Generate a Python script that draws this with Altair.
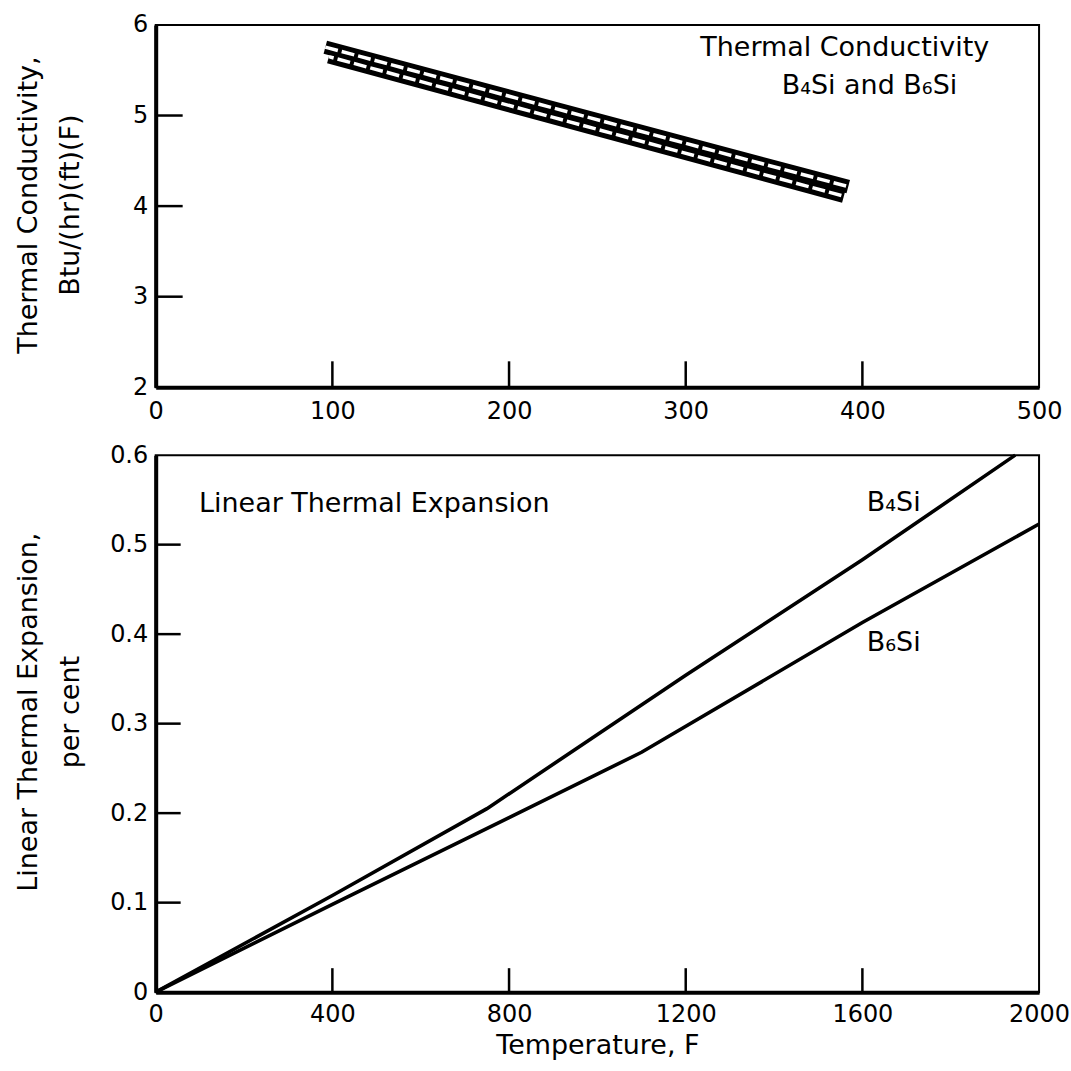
import altair as alt
import pandas as pd

# ---------------- data ----------------
# Top panel: thermal conductivity band (three boundary lines)
band_upper_x = [95, 393]
band_upper_y = [5.80, 4.27]
band_middle_x = [97, 391]
band_middle_y = [5.71, 4.16]
band_lower_x = [99, 388]
band_lower_y = [5.59, 4.06]

cond_x_labels = [0, 100, 200, 300, 400, 500]
cond_y_labels = [2, 3, 4, 5, 6]
cond_x_ticks = [100, 200, 300, 400]
cond_y_ticks = [3, 4, 5]

# Bottom panel: linear thermal expansion
temp_b4si = [0, 400, 750, 1200, 1600, 1946]
exp_b4si = [0, 0.108, 0.205, 0.354, 0.483, 0.6]
temp_b6si = [0, 400, 800, 1100, 1600, 2000]
exp_b6si = [0, 0.098, 0.195, 0.268, 0.413, 0.523]

exp_x_labels = [0, 400, 800, 1200, 1600, 2000]
exp_y_labels = [0, 0.1, 0.2, 0.3, 0.4, 0.5, 0.6]
exp_x_ticks = [400, 800, 1200, 1600]
exp_y_ticks = [0.1, 0.2, 0.3, 0.4, 0.5]

top_notes = ["Thermal Conductivity", "B\u2084Si and B\u2086Si"]
top_notes_x = [390, 404]
top_notes_y = [5.75, 5.33]

bottom_notes = ["Linear Thermal Expansion", "B\u2084Si", "B\u2086Si"]
bottom_notes_x = [98, 1671, 1671]
bottom_notes_y = [0.545, 0.547, 0.39]
bottom_notes_align = ["left", "center", "center"]

FONT = "DejaVu Sans"
W = 885
H_TOP = 363
H_BOT = 538

# ---------------- top panel ----------------
x_top = alt.X("x:Q", scale=alt.Scale(domain=[0, 500], nice=False, zero=False),
              axis=alt.Axis(values=cond_x_labels, title=None, ticks=False, grid=False, format="d",
                            labelFlush=False, labelPadding=12, labelOverlap=False))
y_top = alt.Y("y:Q", scale=alt.Scale(domain=[2, 6], nice=False, zero=False),
              axis=alt.Axis(values=cond_y_labels, ticks=False, grid=False, format="d",
                            labelPadding=8, labelOverlap=False,
                            title=["Thermal Conductivity,", "Btu/(hr)(ft)(F)"],
                            titleX=-113, titleY=180, titleLineHeight=42))

# strip midlines (between boundary lines)
strips = []
for name, xa, ya, xb, yb in [("upper", band_upper_x, band_upper_y, band_middle_x, band_middle_y),
                             ("lower", band_middle_x, band_middle_y, band_lower_x, band_lower_y)]:
    for i in range(2):
        strips.append({"strip": name, "x": (xa[i] + xb[i]) / 2, "y": (ya[i] + yb[i]) / 2, "o": i})
strip_df = pd.DataFrame(strips)

strip_black = alt.Chart(strip_df).mark_line(color="black", strokeWidth=13.5, strokeCap="butt").encode(
    x=x_top, y=y_top, detail="strip:N", order="o:Q")
dash_u = alt.Chart(strip_df[strip_df.strip == "upper"]).mark_line(
    color="white", strokeWidth=3.5, strokeDash=[13, 4], strokeDashOffset=0).encode(
    x=x_top, y=y_top, order="o:Q")
dash_l = alt.Chart(strip_df[strip_df.strip == "lower"]).mark_line(
    color="white", strokeWidth=3.5, strokeDash=[13, 4], strokeDashOffset=8).encode(
    x=x_top, y=y_top, order="o:Q")

top_xt = alt.Chart(pd.DataFrame({"x": cond_x_ticks})).mark_rule(color="black", strokeWidth=2.5).encode(
    x=x_top, y=alt.value(H_TOP), y2=alt.value(H_TOP - 26))
top_yt = alt.Chart(pd.DataFrame({"y": cond_y_ticks})).mark_rule(color="black", strokeWidth=2.5).encode(
    y=y_top, x=alt.value(0), x2=alt.value(27))
top_txt = alt.Chart(pd.DataFrame({"x": top_notes_x, "y": top_notes_y, "t": top_notes})).mark_text(
    font=FONT, fontSize=27, color="black", align="center", baseline="middle").encode(
    x=x_top, y=y_top, text="t:N")

top = alt.layer(strip_black, dash_u, dash_l, top_xt, top_yt, top_txt).properties(width=W, height=H_TOP)

# ---------------- bottom panel ----------------
x_bot = alt.X("x:Q", scale=alt.Scale(domain=[0, 2000], nice=False, zero=False),
              axis=alt.Axis(values=exp_x_labels, title="Temperature, F", ticks=False, grid=False,
                            format="d", labelFlush=False, labelPadding=10, labelOverlap=False,
                            titlePadding=6))
y_bot = alt.Y("y:Q", scale=alt.Scale(domain=[0, 0.6], nice=False, zero=False),
              axis=alt.Axis(values=exp_y_labels, ticks=False, grid=False, format="~g",
                            labelPadding=8, labelOverlap=False,
                            title=["Linear Thermal Expansion,", "per cent"],
                            titleX=-113, titleY=257, titleLineHeight=42))

lines_df = pd.concat([
    pd.DataFrame({"x": temp_b4si, "y": exp_b4si, "s": "B4Si", "o": range(len(temp_b4si))}),
    pd.DataFrame({"x": temp_b6si, "y": exp_b6si, "s": "B6Si", "o": range(len(temp_b6si))}),
])
exp_lines = alt.Chart(lines_df).mark_line(color="black", strokeWidth=3.6).encode(
    x=x_bot, y=y_bot, detail="s:N", order="o:Q")

bot_xt = alt.Chart(pd.DataFrame({"x": exp_x_ticks})).mark_rule(color="black", strokeWidth=2.5).encode(
    x=x_bot, y=alt.value(H_BOT), y2=alt.value(H_BOT - 24))
bot_yt = alt.Chart(pd.DataFrame({"y": exp_y_ticks})).mark_rule(color="black", strokeWidth=2.5).encode(
    y=y_bot, x=alt.value(0), x2=alt.value(25))

notes_df = pd.DataFrame({"x": bottom_notes_x, "y": bottom_notes_y, "t": bottom_notes, "a": bottom_notes_align})
bot_txt_left = alt.Chart(notes_df[notes_df.a == "left"]).mark_text(
    font=FONT, fontSize=27, color="black", align="left", baseline="middle").encode(
    x=x_bot, y=y_bot, text="t:N")
bot_txt_center = alt.Chart(notes_df[notes_df.a == "center"]).mark_text(
    font=FONT, fontSize=27, color="black", align="center", baseline="middle").encode(
    x=x_bot, y=y_bot, text="t:N")

bottom = alt.layer(exp_lines, bot_xt, bot_yt, bot_txt_left, bot_txt_center).properties(width=W, height=H_BOT)

chart = alt.vconcat(top, bottom, spacing=18).properties(
    padding={"left": 13, "top": 11, "right": 0, "bottom": 0},
    background="white",
).configure_view(
    stroke="black", strokeWidth=2
).configure_axis(
    domainColor="black", domainWidth=4,
    labelFont=FONT, labelFontSize=24, labelColor="black",
    titleFont=FONT, titleFontSize=27, titleFontWeight="normal", titleColor="black",
)

chart.save("out.html", embed_options={"renderer": "svg", "actions": False})
